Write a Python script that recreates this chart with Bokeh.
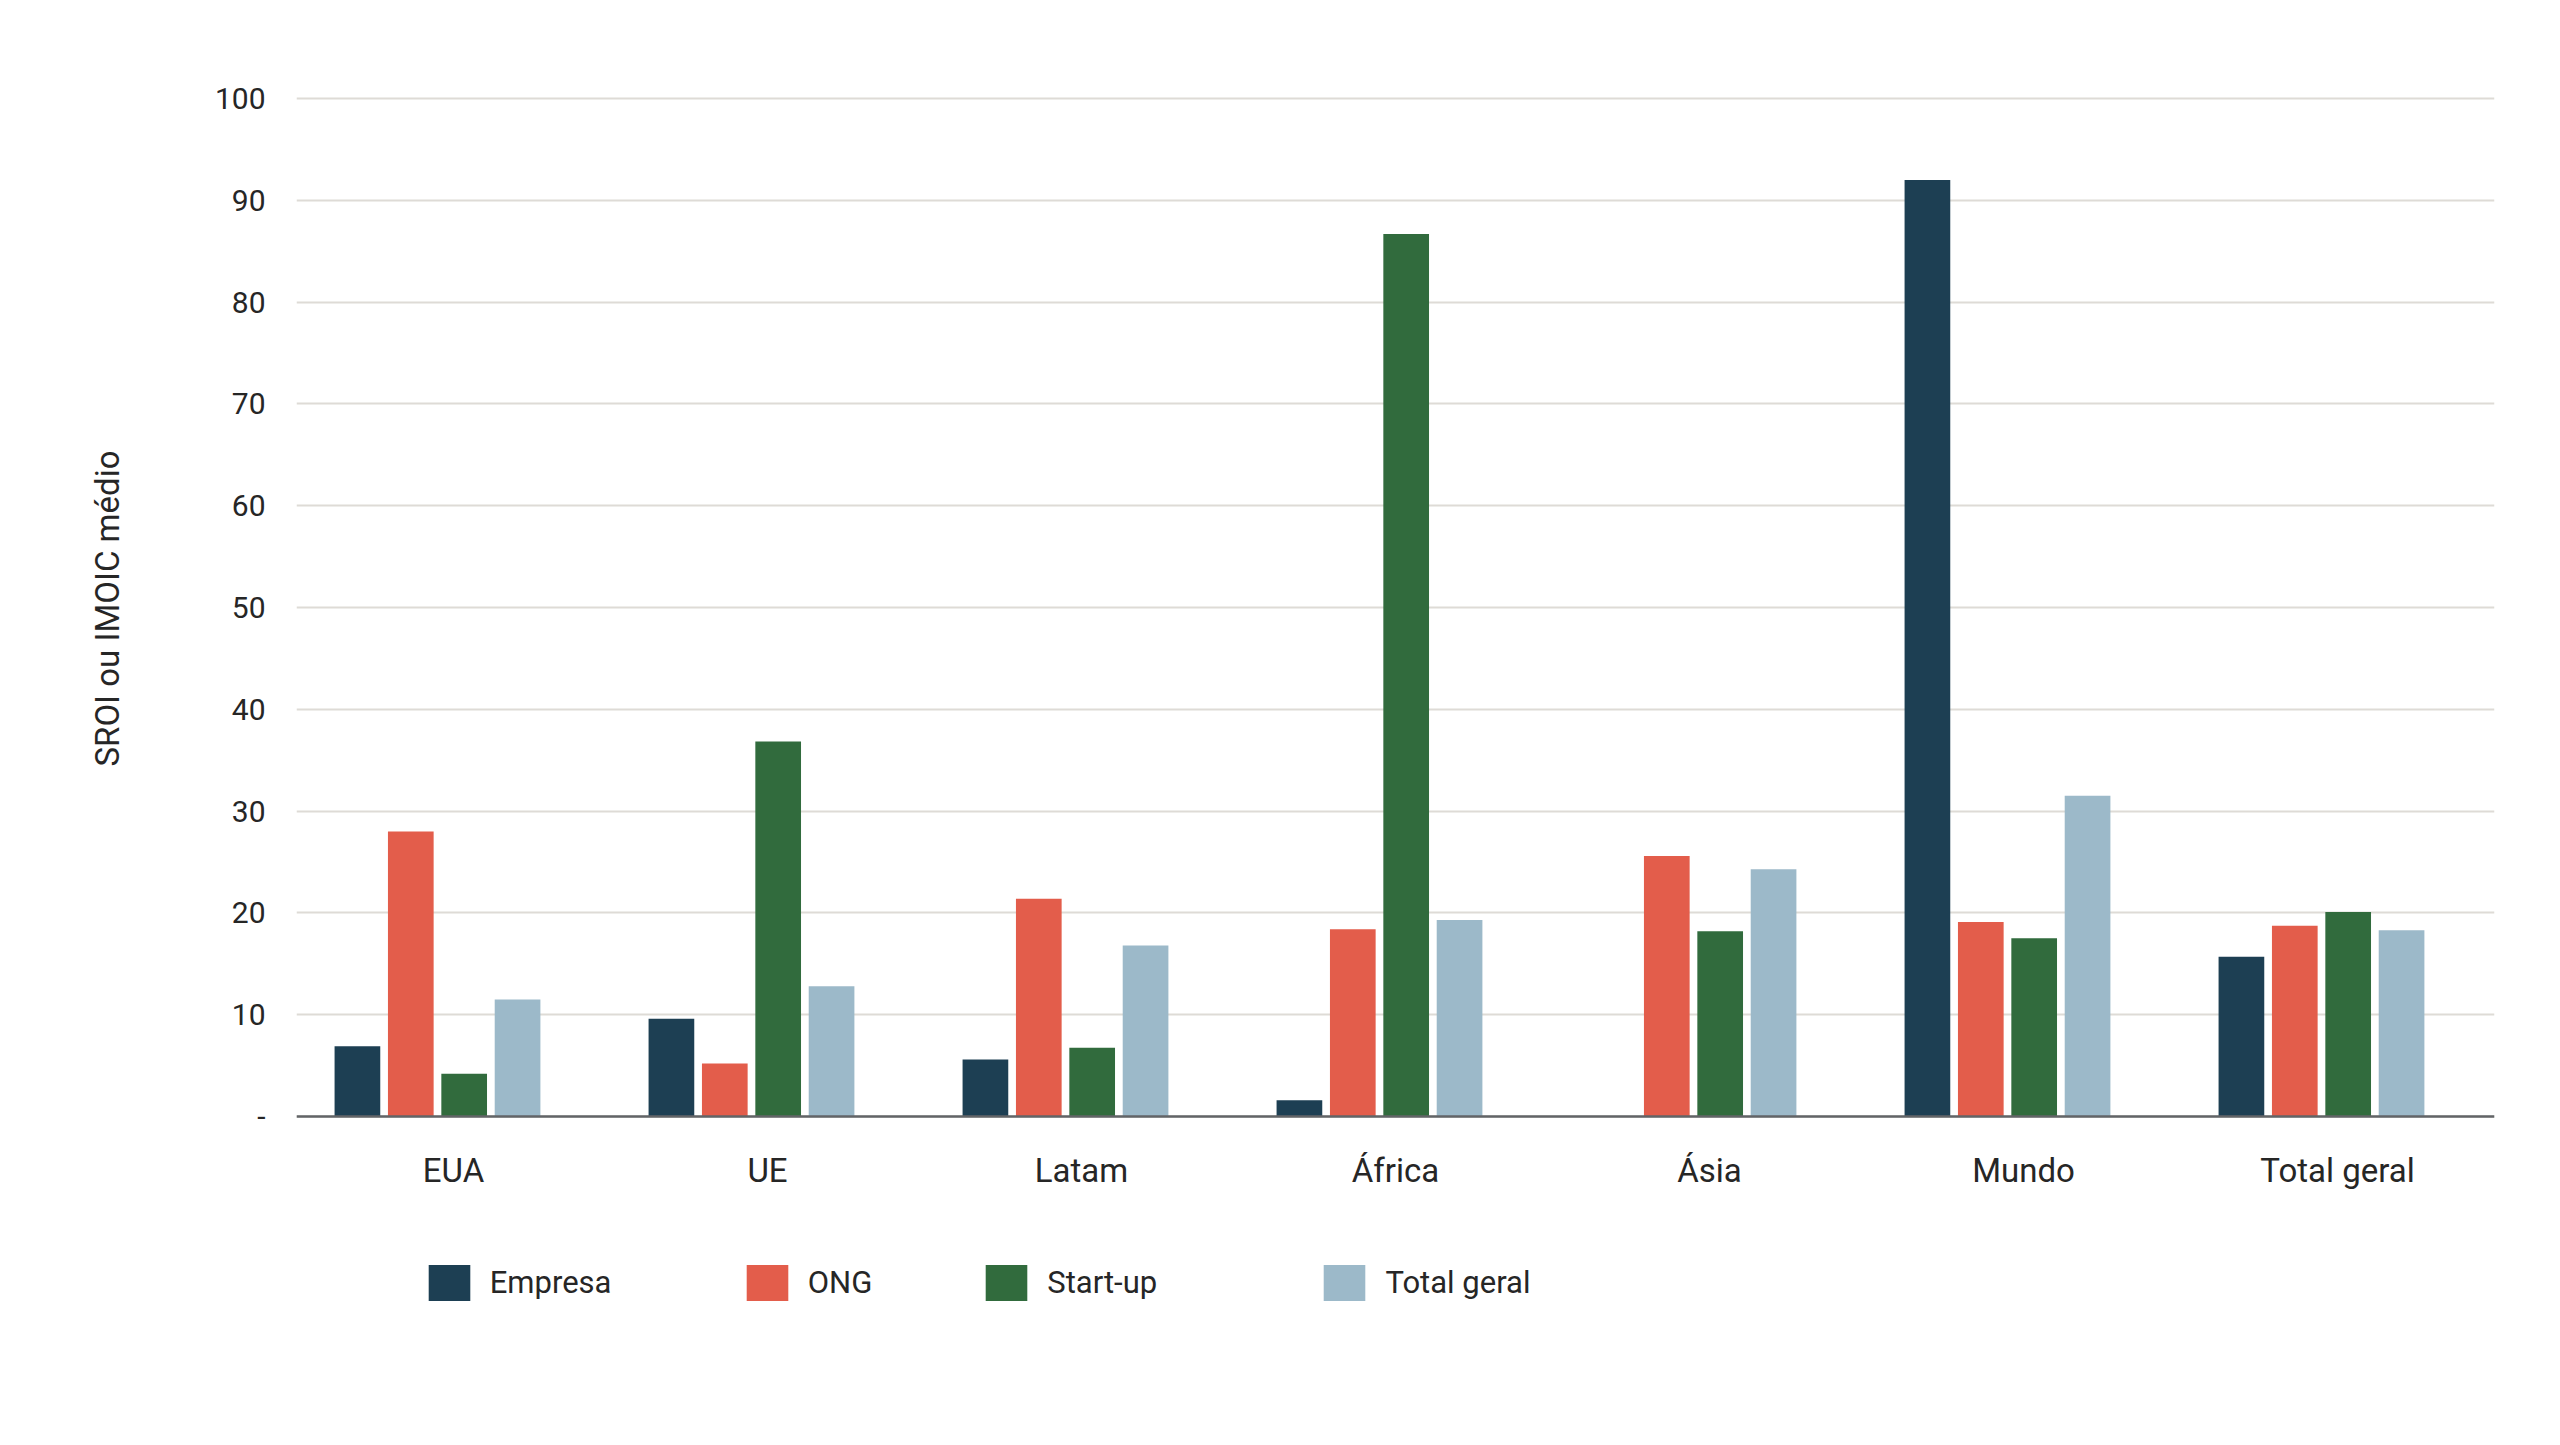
from bokeh.plotting import figure
from bokeh.models import (ColumnDataSource, FactorRange, Range1d, Legend, LegendItem,
                          FixedTicker, Title)
from bokeh.transform import dodge
from bokeh.embed import file_html
from bokeh.resources import INLINE

regions = ["EUA", "UE", "Latam", "África", "Ásia", "Mundo", "Total geral"]
series = ["Empresa", "ONG", "Start-up", "Total geral"]
empresa = [6.9, 9.6, 5.6, 1.6, 0.0, 92.0, 15.7]
ong = [28.0, 5.2, 21.4, 18.4, 25.6, 19.1, 18.75]
startup = [4.2, 36.85, 6.75, 86.7, 18.2, 17.5, 20.1]
total = [11.5, 12.8, 16.8, 19.3, 24.3, 31.5, 18.3]
y_ticks = [0, 10, 20, 30, 40, 50, 60, 70, 80, 90, 100]
y_label = "SROI ou IMOIC médio"

colors = ["#1d3f53", "#e35d4b", "#316b3d", "#9cb9c9"]
offsets = [-0.306, -0.136, 0.034, 0.204]
FONT = "Roboto"
TEXT = "#262626"

source = ColumnDataSource(data=dict(
    region=regions, Empresa=empresa, ONG=ong, Startup=startup, Total=total))
fields = ["Empresa", "ONG", "Startup", "Total"]

# the frame extends below zero so the legend can sit inside it;
# the category axis is pinned at y = 0
p = figure(
    x_range=FactorRange(*regions, range_padding=0),
    y_range=Range1d(-21.02, 100.2),
    width=2552, height=1437,
    output_backend="svg", toolbar_location=None,
    min_border_left=295, min_border_right=58,
    min_border_top=96, min_border_bottom=107,
)
p.outline_line_color = None
p.background_fill_color = "white"
p.border_fill_color = "white"

renderers = []
for f, c, off in zip(fields, colors, offsets):
    r = p.vbar(x=dodge("region", off, range=p.x_range), top=f, bottom=0, width=0.1455,
               source=source, fill_color=c, line_color=None)
    renderers.append(r)

# grid
p.xgrid.grid_line_color = None
p.ygrid.grid_line_color = "#dedbd6"
p.ygrid.grid_line_width = 2

# y axis
p.yaxis.ticker = FixedTicker(ticks=y_ticks)
p.yaxis.major_label_overrides = {0: "-"}
p.yaxis.axis_line_color = None
p.yaxis.major_tick_line_color = None
p.yaxis.minor_tick_line_color = None
p.yaxis.major_label_standoff = 25
p.yaxis.major_label_text_font = FONT
p.yaxis.major_label_text_font_size = "30px"
p.yaxis.major_label_text_color = TEXT

# y axis title (placed relative to the top of the frame)
ytitle = Title(text=y_label, align="right", offset=354, standoff=170,
               text_font=FONT, text_font_size="33px", text_font_style="normal",
               text_color=TEXT)
p.add_layout(ytitle, "left")

# x axis
p.xaxis.fixed_location = 0
p.xaxis.axis_line_color = "#626467"
p.xaxis.axis_line_width = 2.5
p.xaxis.major_tick_line_color = None
p.xaxis.minor_tick_line_color = None
p.xaxis.major_label_standoff = 28
p.xaxis.major_label_text_font = FONT
p.xaxis.major_label_text_font_size = "33px"
p.xaxis.major_label_text_color = TEXT

# legend: one entry per small legend, positioned under the axis
legend_x = [126.75, 444.75, 684.25, 1022.45]
for name, r, lx in zip(series, renderers, legend_x):
    lg = Legend(items=[LegendItem(label=name, renderers=[r])],
                location=(lx, 25.5), orientation="horizontal",
                glyph_width=52, glyph_height=45, label_standoff=15,
                padding=0, margin=0, spacing=0,
                border_line_color=None, background_fill_alpha=0,
                label_text_font=FONT, label_text_font_size="31px",
                label_text_color=TEXT)
    p.add_layout(lg, "center")

open("out.html", "w").write(file_html(p, INLINE))
